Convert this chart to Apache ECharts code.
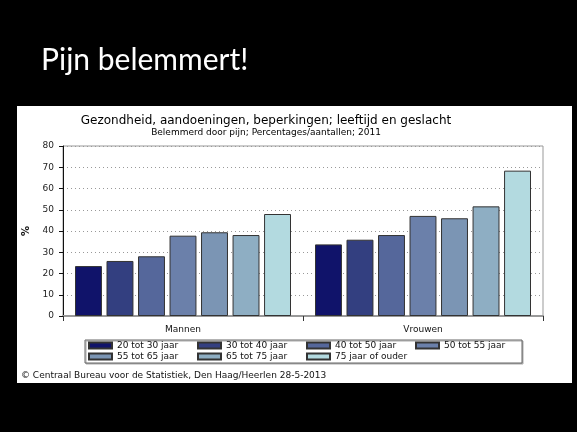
<!DOCTYPE html>
<html><head><meta charset="utf-8">
<script src="https://cdn.jsdelivr.net/npm/echarts@6/dist/echarts.min.js"></script>
<style>html,body{margin:0;padding:0;background:#000;}#c{width:577px;height:432px;}</style>
</head><body><div id="c"></div>
<script>
const categories = ['Mannen', 'Vrouwen'];
const seriesNames = ['20 tot 30 jaar', '30 tot 40 jaar', '40 tot 50 jaar', '50 tot 55 jaar', '55 tot 65 jaar', '65 tot 75 jaar', '75 jaar of ouder'];
const age20_30 = [23.5, 33.7];
const age30_40 = [25.9, 35.9];
const age40_50 = [28.1, 38.1];
const age50_55 = [37.8, 47.1];
const age55_65 = [39.4, 46.0];
const age65_75 = [38.1, 51.6];
const age75plus = [48.0, 68.4];
const seriesValues = [age20_30, age30_40, age40_50, age50_55, age55_65, age65_75, age75plus];
const colors = ['#10136a', '#333f80', '#55679b', '#6b80aa', '#7b95b4', '#8eaec3', '#b3dae0'];

const legendPos = [[88,340],[197,340],[306,340],[415,340],[88,351],[197,351],[306,351]];
const font = 'Verdana, "DejaVu Sans", sans-serif';

const chart = echarts.init(document.getElementById('c'));
chart.setOption({
  backgroundColor: '#000',
  animation: false,
  graphic: [
    {type:'rect', z:-10, shape:{x:17,y:106,width:555,height:277}, style:{fill:'#fff'}},
    {type:'rect', z:-5, shape:{x:85,y:340,width:437,height:23}, style:{fill:'#fff', stroke:'#666', lineWidth:1, shadowColor:'#aaa', shadowOffsetX:1, shadowOffsetY:1}},
    {type:'text', left:41, top:45, style:{text:'Pijn belemmert!', fill:'#fff', font:'30px Lato, "Open Sans", sans-serif'}},
    {type:'text', x:266, y:121, style:{text:'Gezondheid, aandoeningen, beperkingen; leeftijd en geslacht', fill:'#000', font:'12px '+font, textAlign:'center', textVerticalAlign:'middle'}},
    {type:'text', x:266, y:133, style:{text:'Belemmerd door pijn; Percentages/aantallen; 2011', fill:'#000', font:'9px '+font, textAlign:'center', textVerticalAlign:'middle'}},
    {type:'text', x:21, y:376, style:{text:'\u00a9 Centraal Bureau voor de Statistiek, Den Haag/Heerlen 28-5-2013', fill:'#111', font:'9px '+font, textVerticalAlign:'middle'}}
  ],
  legend: seriesNames.map((n,i)=>({
    data:[n], left:legendPos[i][0], top:legendPos[i][1], padding:0, icon:'rect',
    itemWidth:23, itemHeight:6, itemGap:0,
    textStyle:{fontFamily:font, fontSize:9, color:'#111', lineHeight:11}
  })),
  grid: {left:63, right:34, top:146, bottom:116, show:true, borderColor:'#999', borderWidth:1},
  xAxis: {
    type:'category', data:categories,
    axisLine:{lineStyle:{color:'#999', width:2}},
    axisTick:{show:true, length:5, lineStyle:{color:'#333'}},
    axisLabel:{fontFamily:font, fontSize:9, color:'#111', margin:9}
  },
  yAxis: {
    type:'value', min:0, max:80, interval:10,
    name:'%', nameLocation:'middle', nameRotate:90, nameGap:28,
    nameTextStyle:{fontFamily:font, fontSize:10, fontWeight:'bold', color:'#111'},
    axisLine:{show:true, lineStyle:{color:'#111', width:1}},
    axisTick:{show:true, length:4, lineStyle:{color:'#111'}},
    axisLabel:{fontFamily:font, fontSize:9, color:'#222', margin:9},
    splitLine:{lineStyle:{color:'#999', type:[1,3]}}
  },
  series: seriesValues.map((d,i)=>({
    name: seriesNames[i], type:'bar', data:d,
    barCategoryGap:'10%', barGap:'17%',
    itemStyle:{color:colors[i], borderColor:'#333', borderWidth:1}
  }))
});
</script></body></html>
